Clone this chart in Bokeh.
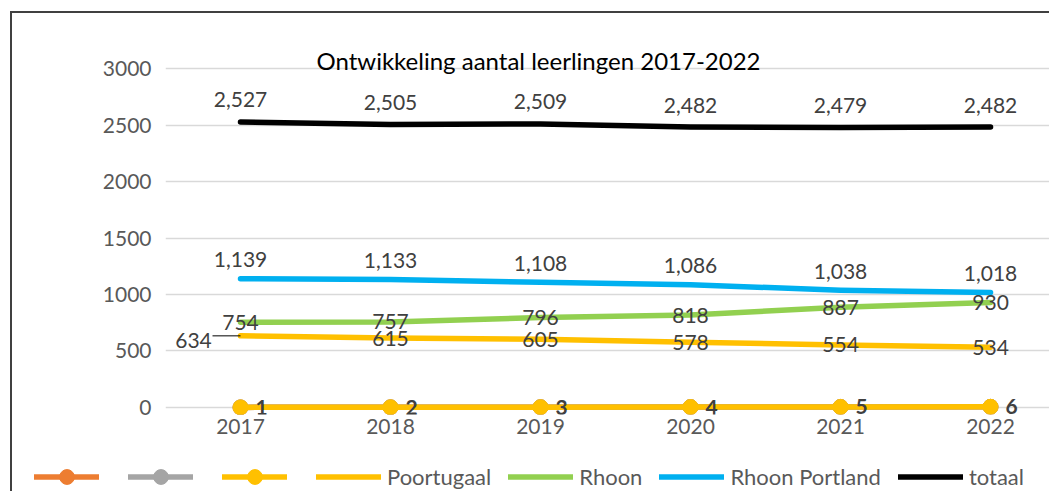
from bokeh.plotting import figure
from bokeh.layouts import column
from bokeh.models import Range1d, FixedTicker, Label, Legend, LegendItem, ColumnDataSource
from bokeh.core.properties import value
from bokeh.embed import file_html
from bokeh.resources import INLINE

# ---- data ----
years = ["2017", "2018", "2019", "2020", "2021", "2022"]
reeks = [1, 2, 3, 4, 5, 6]
poortugaal = [634, 615, 605, 578, 554, 534]
rhoon = [754, 757, 796, 818, 887, 930]
rhoon_portland = [1139, 1133, 1108, 1086, 1038, 1018]
totaal = [2527, 2505, 2509, 2482, 2479, 2482]
y_ticks = [0, 500, 1000, 1500, 2000, 2500, 3000]
title_text = "Ontwikkeling aantal leerlingen 2017-2022"

ORANGE = "#ED7D31"
GRAY = "#A5A5A5"
GOLD = "#FFC000"
GREEN = "#92D050"
BLUE = "#00B0F0"
BLACK = "#000000"
LABEL = "#404040"
AXIS = "#595959"
FONT = "Lato"

xs = list(range(len(years)))
lw = 5.5

p = figure(width=1037, height=431, output_backend="svg", toolbar_location=None,
           x_range=Range1d(-0.5, 5.393), y_range=Range1d(-62, 3478),
           min_border_left=153, min_border_right=0, min_border_top=1,
           min_border_bottom=30)
p.outline_line_color = None
p.background_fill_color = "white"
p.border_fill_color = "white"

p.xaxis.ticker = FixedTicker(ticks=xs)
p.xaxis.major_label_overrides = {i: y for i, y in zip(xs, years)}
p.yaxis.ticker = FixedTicker(ticks=y_ticks)
for ax in (p.xaxis[0], p.yaxis[0]):
    ax.axis_line_color = None
    ax.major_tick_line_color = None
    ax.minor_tick_line_color = None
    ax.major_label_text_font = FONT
    ax.major_label_text_font_size = "21px"
    ax.major_label_text_color = AXIS
p.xaxis.major_label_standoff = -2
p.yaxis.major_label_standoff = 8
p.xgrid.grid_line_color = None
p.ygrid.grid_line_color = "#D9D9D9"
p.ygrid.grid_line_width = 1.5

def series(fig, yv, color, marker=False):
    rs = [fig.line(xs, yv, line_color=color, line_width=lw, line_cap="round",
                   line_join="round")]
    if marker:
        rs.append(fig.scatter(xs, yv, marker="circle", size=15, fill_color=color,
                              line_color=color))
    return rs

series(p, reeks, ORANGE, True)
series(p, reeks, GRAY, True)
series(p, reeks, GOLD, True)
series(p, poortugaal, GOLD)
series(p, rhoon, GREEN)
series(p, rhoon_portland, BLUE)
series(p, totaal, BLACK)

# leader line for first Poortugaal label
p.segment(x0=[xs[0] - 28 / 150], y0=[poortugaal[0]], x1=[xs[0]], y1=[poortugaal[0]],
          line_color="#000000", line_width=1)

def labels(xv, yv, texts, **kw):
    src = ColumnDataSource(dict(x=xv, y=yv, t=texts))
    p.text(x="x", y="y", text="t", source=src, text_font=value(FONT),
           text_font_size="21px", text_color=LABEL, **kw)

labels(xs, totaal, [f"{v:,}" for v in totaal], text_align="center",
       text_baseline="middle", y_offset=-22)
labels(xs, rhoon_portland, [f"{v:,}" for v in rhoon_portland], text_align="center",
       text_baseline="middle", y_offset=-19)
labels(xs, rhoon, [f"{v:,}" for v in rhoon], text_align="center", text_baseline="middle")
labels(xs[1:], poortugaal[1:], [f"{v:,}" for v in poortugaal[1:]], text_align="center",
       text_baseline="middle")
labels(xs[:1], poortugaal[:1], [f"{v:,}" for v in poortugaal[:1]], text_align="center",
       text_baseline="middle", x_offset=-47, y_offset=5)
labels(xs, reeks, [str(v) for v in reeks], text_align="left", text_baseline="middle",
       x_offset=15, text_font_style="bold")

p.add_layout(Label(x=373, y=354, x_units="screen", y_units="screen", text=title_text,
                   text_font=FONT, text_font_size="24px", text_color="#000000",
                   text_align="center", text_baseline="alphabetic"))

# ---- legend strip ----
lg = figure(width=1037, height=47, output_backend="svg", toolbar_location=None,
            x_range=Range1d(-0.5, 5.393), y_range=Range1d(100000, 100001),
            min_border=0, min_border_left=0, min_border_right=0,
            min_border_top=0, min_border_bottom=0,
            x_axis_location=None, y_axis_location=None)
lg.outline_line_color = None
lg.xgrid.grid_line_color = None
lg.ygrid.grid_line_color = None
lg.border_fill_color = "white"

unaligned = True
for fig in (p, lg):
    try:
        fig.frame_align = False
    except Exception:
        unaligned = False

items = [
    LegendItem(label=value(" "), renderers=series(lg, reeks, ORANGE, True)),
    LegendItem(label=value(" "), renderers=series(lg, reeks, GRAY, True)),
    LegendItem(label=value(" "), renderers=series(lg, reeks, GOLD, True)),
    LegendItem(label="Poortugaal", renderers=series(lg, poortugaal, GOLD)),
    LegendItem(label="Rhoon", renderers=series(lg, rhoon, GREEN)),
    LegendItem(label="Rhoon Portland", renderers=series(lg, rhoon_portland, BLUE)),
    LegendItem(label="totaal", renderers=series(lg, totaal, BLACK)),
]
legend = Legend(items=items, orientation="horizontal",
                location=(22 if unaligned else -131, -4),
                glyph_width=65, glyph_height=37, label_standoff=6, spacing=17,
                label_width=6, label_height=20,
                padding=0, margin=0, border_line_color=None, background_fill_alpha=0,
                label_text_font=FONT, label_text_font_size="22px",
                label_text_color=AXIS)
lg.add_layout(legend, "center")

layout = column(p, lg, spacing=0)
layout.styles = {"border-top": "2px solid #404040", "border-left": "2px solid #404040",
                 "margin-left": "10px", "margin-top": "11px"}

open("out.html", "w").write(file_html(layout, INLINE))
